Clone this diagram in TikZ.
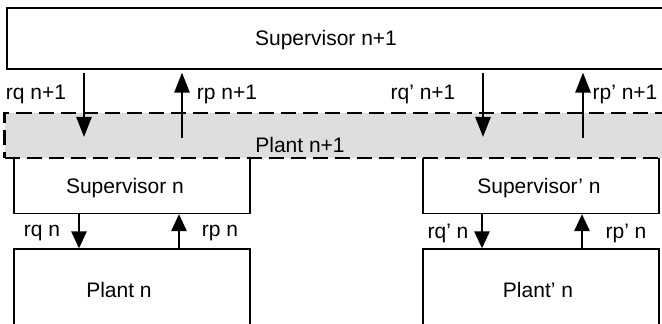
\documentclass[tikz,border=0pt]{standalone}
\usepackage{fontspec}
\setmainfont{Liberation Sans}
\usepackage{tikz}
\usetikzlibrary{arrows.meta}
\definecolor{bandgray}{RGB}{221,222,224}

\begin{document}
\begin{tikzpicture}[x=0.5pt, y=-0.5pt,
  every node/.style={inner sep=0pt, font=\fontsize{10.5}{12}\selectfont},
  box/.style={draw, rectangle, line width=0.6pt},
  band/.style={draw, rectangle, fill=bandgray, line width=1.3pt, dash pattern=on 7.5pt off 3.5pt},
  sig/.style={-{Triangle[length=10pt, width=7.5pt]}, line width=1.3pt},
  sigs/.style={-{Triangle[length=8.5pt, width=7.5pt]}, line width=1.3pt}]
\useasboundingbox (0,0) rectangle (662,324);
\clip (0,0) rectangle (662,324);
% level n
\node[box, minimum width=118pt, minimum height=29pt] (supn) at (132,184.5) {};
\node[box, minimum width=118pt, minimum height=45.5pt] (plantn) at (132,294.5) {};
\node[box, minimum width=118pt, minimum height=29pt] (supnp) at (541,184.5) {};
\node[box, minimum width=118pt, minimum height=45.5pt] (plantnp) at (541,294.5) {};
% level n+1
\node[box, minimum width=331.5pt, minimum height=30.5pt] (supN1) at (338.5,38.5) {};
\node[band, minimum width=336.5pt, minimum height=22.5pt] (plantN1) at (341,135.5) {};
\coordinate (rqN1) at (84,137);
\coordinate (rpN1) at (182,138);
\coordinate (rqN1p) at (483,137);
\coordinate (rpN1p) at (583,138);
\draw[sig, shorten <=1.5pt] (supN1.south -| rqN1) -- (rqN1);
\draw[sig, shorten >=1.5pt] (rpN1) -- (supN1.south -| rpN1);
\draw[sig, shorten <=1.5pt] (supN1.south -| rqN1p) -- (rqN1p);
\draw[sig, shorten >=1.5pt] (rpN1p) -- (supN1.south -| rpN1p);
\draw[sigs] ([xshift=-26.5pt]supn.south) -- ([xshift=-26.5pt]plantn.north);
\draw[sigs] ([xshift=23.5pt]plantn.north) -- ([xshift=23.5pt]supn.south);
\draw[sigs] ([xshift=-29.5pt]supnp.south) -- ([xshift=-29.5pt]plantnp.north);
\draw[sigs] ([xshift=20.5pt]plantnp.north) -- ([xshift=20.5pt]supnp.south);
% texts
\node (tsupN1) at (326,40) {Supervisor n+1};
\node (tplantN1) at (300,145) {Plant n+1};
\node (tsupn) at (125,188) {Supervisor n};
\node (tplantn) at (119,290) {Plant n};
\node (tsupnp) at (539,188) {Supervisor' n};
\node (tplantnp) at (538,290) {Plant' n};
\node (lrqN1) at (36,94) {rq n+1};
\node (lrpN1) at (227,94) {rp n+1};
\node (lrqN1p) at (423,94) {rq' n+1};
\node (lrpN1p) at (625,94) {rp' n+1};
\node (lrqn) at (42,233) {rq n};
\node (lrpn) at (220,233) {rp n};
\node (lrqnp) at (448,233) {rq' n};
\node (lrpnp) at (626,233) {rp' n};
\end{tikzpicture}
\end{document}
